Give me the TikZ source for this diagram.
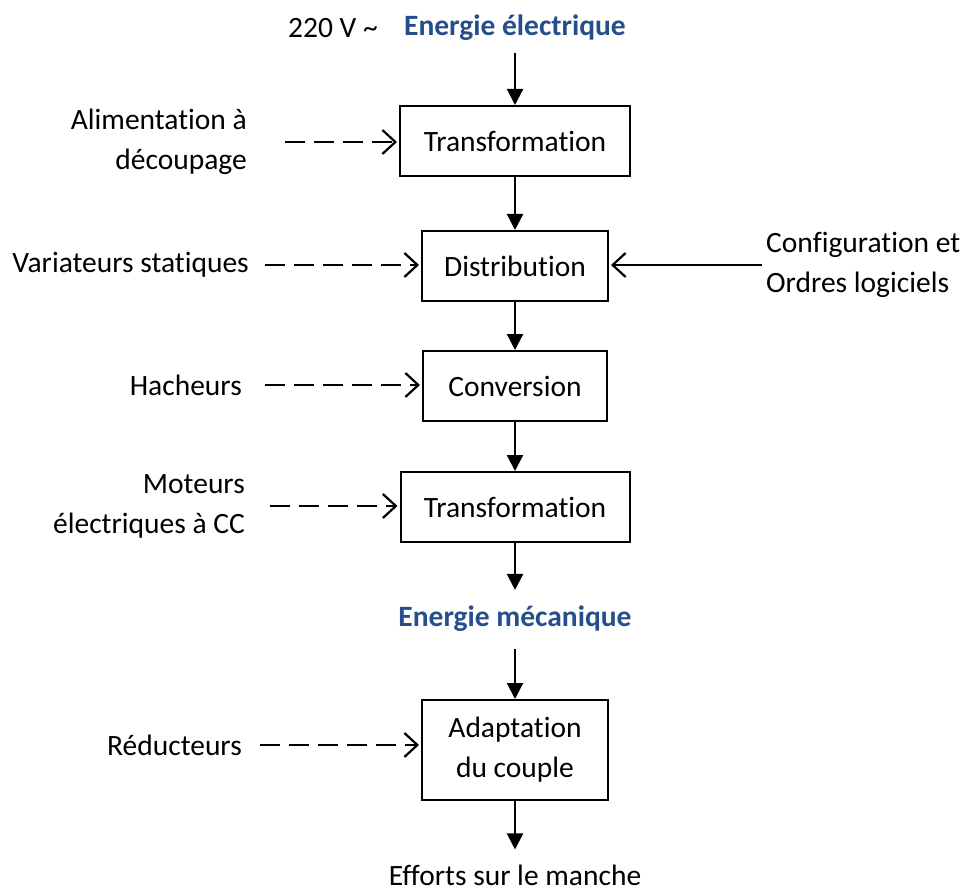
\documentclass[tikz,border=0pt]{standalone}
\usepackage{fontspec}
\setmainfont[Ligatures=NoCommon]{Carlito}
\usepackage{tikz}
\usetikzlibrary{arrows.meta,positioning}
\definecolor{energie}{RGB}{38,78,138}

\begin{document}
\begin{tikzpicture}[x=1pt,y=-1pt,
    font=\fontsize{29.5}{40}\selectfont,
    box/.style={draw,line width=2pt,minimum height=70pt,inner sep=0pt},
    lbl/.style={inner sep=0pt,align=right,anchor=east},
    titre/.style={inner sep=0pt,text=energie,font=\fontsize{29.5}{40}\selectfont\bfseries},
    flow/.style={line width=2.2pt,-{Triangle[length=16pt,width=16pt]}},
    cmd/.style={line width=2.2pt,-{Straight Barb[length=13pt,width=24pt,line width=2.2pt]}},
    dcmd/.style={cmd,dash pattern=on 20pt off 9pt}]
  \useasboundingbox (0,0) rectangle (965,893);

  % chaine d'energie
  \node[inner sep=0pt]  (v220) at (333,28) {220 V \char`\~};
  \node[titre]          (elec) at (515,28) {Energie électrique};
  \node[box,minimum width=230pt] (t1) at (515,141) {Transformation};
  \node[box,minimum width=186pt] (d2) at (515,266) {Distribution};
  \node[box,minimum width=184pt] (c3) at (515,386) {Conversion};
  \node[box,minimum width=229pt] (t4) at (515,507) {Transformation};
  \node[titre]          (meca) at (515,619) {Energie mécanique};
  \node[box,minimum width=186pt,minimum height=100pt,align=center] (a5) at (515,750) {Adaptation\\du couple};
  \node[inner sep=0pt]  (eff) at (515,875) {Efforts sur le manche};

  % composants
  \node[lbl] (alim) at (247,142) {Alimentation à\\découpage};
  \node[lbl] (vari) at (249,265) {Variateurs statiques};
  \node[lbl] (hach) at (242,385) {Hacheurs};
  \node[lbl] (mot)  at (245,506) {Moteurs\\électriques à CC};
  \node[lbl] (red)  at (242,745) {Réducteurs};
  \node[inner sep=0pt,align=left,anchor=west] (conf) at (766,265) {Configuration et\\Ordres logiciels};

  \path[flow]
    (elec) edge[shorten <=12pt] (t1)
    (t1) edge (d2)
    (d2) edge (c3)
    (c3) edge (t4)
    (t4) edge[shorten >=16pt] (meca)
    (meca) edge[shorten <=17pt] (a5)
    (a5) edge[shorten >=15pt] (eff);

  \draw[dcmd,shorten <=38pt,shorten >=2pt] (alim.east) -- (alim.east -| t1.west);
  \draw[dcmd,shorten <=16pt,shorten >=2pt] (vari.east) -- (vari.east -| d2.west);
  \draw[dcmd,shorten <=23pt,shorten >=2pt] (hach.east) -- (hach.east -| c3.west);
  \draw[dcmd,shorten <=25pt,shorten >=2pt] (mot.east) -- (mot.east -| t4.west);
  \draw[dcmd,shorten <=18pt,shorten >=2pt] (red.east) -- (red.east -| a5.west);
  \draw[cmd,shorten <=4pt,shorten >=2pt] (conf.west) -- (conf.west -| d2.east);
\end{tikzpicture}
\end{document}
